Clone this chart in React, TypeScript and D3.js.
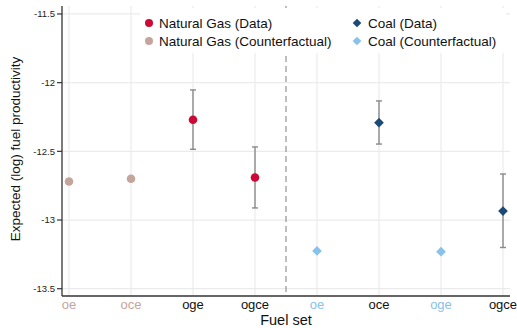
import React from "react";
import * as d3 from "d3";

const fuelSets = ["oe", "oce", "oge", "ogce", "oe", "oce", "oge", "ogce"];
const yTicks = [-11.5, -12, -12.5, -13, -13.5];

const ngDataPos = [3, 4];
const ngDataVal = [-12.27, -12.69];
const ngDataLo = [-12.485, -12.912];
const ngDataHi = [-12.053, -12.468];

const ngCfPos = [1, 2];
const ngCfVal = [-12.72, -12.70];

const coalDataPos = [6, 8];
const coalDataVal = [-12.291, -12.935];
const coalDataLo = [-12.447, -13.2];
const coalDataHi = [-12.133, -12.665];

const coalCfPos = [5, 7];
const coalCfVal = [-13.225, -13.23];

const C_NG = "#cc0a35";
const C_NGCF = "#c4a59c";
const C_COAL = "#1c4a77";
const C_COALCF = "#86c2eb";
const tickColors = [C_NGCF, C_NGCF, "#111", "#111", C_COALCF, "#111", C_COALCF, "#111"];

const W = 517, H = 328;
const left = 62, right = 510, top = 6, bottom = 296;

export default function App() {
  const x = d3.scaleLinear().domain([0.887, 8.113]).range([left, right]);
  const y = d3.scaleLinear().domain([-13.553, -11.442]).range([bottom, top]);
  const font = "Liberation Sans, Arial, sans-serif";
  const diamond = d3.symbol().type(d3.symbolDiamond2).size(60)() as string;
  const diamondSmall = d3.symbol().type(d3.symbolDiamond2).size(48)() as string;

  const errBar = (px: number, lo: number, hi: number, key: string) => (
    <g key={key} stroke="#8a8a8a" strokeWidth={1.4}>
      <line x1={x(px)} x2={x(px)} y1={y(lo)} y2={y(hi)} />
      <line x1={x(px) - 3} x2={x(px) + 3} y1={y(lo)} y2={y(lo)} />
      <line x1={x(px) - 3} x2={x(px) + 3} y1={y(hi)} y2={y(hi)} />
    </g>
  );

  return (
    <svg width={W} height={H} style={{ position: "absolute", left: 0, top: 0 }} fontFamily={font}>
      <rect width={W} height={H} fill="#fff" />
      {/* grid */}
      {yTicks.map((t) => (
        <line key={"gy" + t} x1={left} x2={right} y1={y(t)} y2={y(t)} stroke="#ebebeb" strokeWidth={1.2} />
      ))}
      {fuelSets.map((_, i) => (
        <line key={"gx" + i} x1={x(i + 1)} x2={x(i + 1)} y1={top} y2={bottom} stroke="#ebebeb" strokeWidth={1.2} />
      ))}
      {/* dashed divider */}
      <line x1={x(4.5)} x2={x(4.5)} y1={top} y2={bottom} stroke="#9a9a9a" strokeWidth={1.3} strokeDasharray="6,4" />
      {/* legend box */}
      <rect x={140} y={8} width={366} height={45} fill="#fff" />
      <circle cx={149} cy={23} r={4} fill={C_NG} />
      <text x={159} y={23} dy="0.35em" fontSize={13.5} fill="#111">Natural Gas (Data)</text>
      <circle cx={149} cy={41} r={4} fill={C_NGCF} />
      <text x={159} y={41} dy="0.35em" fontSize={13.5} fill="#111">Natural Gas (Counterfactual)</text>
      <path d={diamondSmall} transform={`translate(357,23)`} fill={C_COAL} />
      <text x={368} y={23} dy="0.35em" fontSize={13.5} fill="#111">Coal (Data)</text>
      <path d={diamondSmall} transform={`translate(357,41)`} fill={C_COALCF} />
      <text x={368} y={41} dy="0.35em" fontSize={13.5} fill="#111">Coal (Counterfactual)</text>
      {/* error bars */}
      {ngDataPos.map((p, i) => errBar(p, ngDataLo[i], ngDataHi[i], "eng" + i))}
      {coalDataPos.map((p, i) => errBar(p, coalDataLo[i], coalDataHi[i], "ec" + i))}
      {/* points */}
      {ngCfPos.map((p, i) => (
        <circle key={"ncf" + i} cx={x(p)} cy={y(ngCfVal[i])} r={4.3} fill={C_NGCF} />
      ))}
      {ngDataPos.map((p, i) => (
        <circle key={"nd" + i} cx={x(p)} cy={y(ngDataVal[i])} r={4.3} fill={C_NG} />
      ))}
      {coalCfPos.map((p, i) => (
        <path key={"ccf" + i} d={diamond} transform={`translate(${x(p)},${y(coalCfVal[i])})`} fill={C_COALCF} />
      ))}
      {coalDataPos.map((p, i) => (
        <path key={"cd" + i} d={diamond} transform={`translate(${x(p)},${y(coalDataVal[i])})`} fill={C_COAL} />
      ))}
      {/* axes */}
      <line x1={left} x2={left} y1={top} y2={bottom} stroke="#333" strokeWidth={1.3} />
      <line x1={left} x2={right} y1={bottom} y2={bottom} stroke="#333" strokeWidth={1.3} />
      {yTicks.map((t) => (
        <g key={"yt" + t}>
          <line x1={left - 5} x2={left} y1={y(t)} y2={y(t)} stroke="#333" strokeWidth={1.2} />
          <text x={left - 7} y={y(t)} dy="0.35em" textAnchor="end" fontSize={9.5} fill="#222">{String(t)}</text>
        </g>
      ))}
      {fuelSets.map((f, i) => (
        <text key={"xt" + i} x={x(i + 1)} y={309} textAnchor="middle" fontSize={13} fill={tickColors[i]}>{f}</text>
      ))}
      <text x={x(4.5)} y={325} textAnchor="middle" fontSize={14.5} fill="#111">Fuel set</text>
      <text transform={`translate(19.5,149) rotate(-90)`} textAnchor="middle" fontSize={13.5} fill="#111">Expected (log) fuel productivity</text>
    </svg>
  );
}
